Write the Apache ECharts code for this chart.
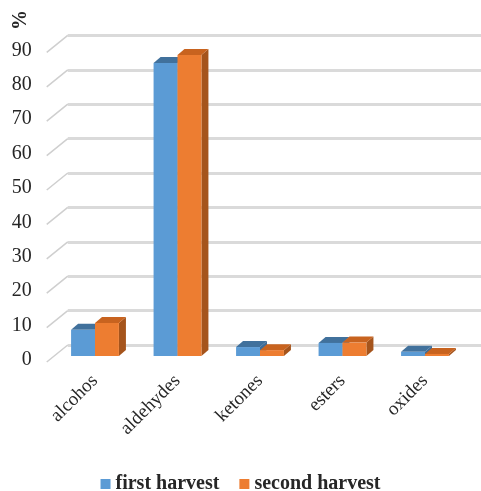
<!DOCTYPE html>
<html>
<head>
<meta charset="utf-8">
<script src="https://cdn.jsdelivr.net/npm/echarts@6/dist/echarts.min.js"></script>
<style>
  html, body { margin: 0; padding: 0; background: #fff; }
  #chart { width: 481px; height: 491px; }
</style>
</head>
<body>
<div id="chart"></div>
<script>
var categories = ['alcohos', 'aldehydes', 'ketones', 'esters', 'oxides'];
var firstHarvest = [7.6, 85.2, 2.6, 3.8, 1.2];
var secondHarvest = [9.6, 87.5, 1.7, 3.9, 0.6];
var yTicks = [0, 10, 20, 30, 40, 50, 60, 70, 80, 90];

var serif = '"Liberation Serif", "Times New Roman", serif';
var depthX = 7, depthY = 6;     // bar top/side depth
var backX = 14, backY = 11;     // bar plane -> back wall
var frontX = 7, frontY = 6;     // front edge -> bar plane

function bar3d(slot, front, top, side) {
    return function (params, api) {
        var cat = api.value(0);
        var val = api.value(1);
        var base = api.coord([cat, 0]);
        var tp = api.coord([cat, val]);
        var band = api.size([1, 0])[0];
        var w = band * 0.29;
        var x0 = base[0] - w + slot * w;
        var yT = tp[1], yB = base[1];
        return {
            type: 'group',
            children: [
                { type: 'polygon', shape: { points: [[x0 + w, yT], [x0 + w + depthX, yT - depthY], [x0 + w + depthX, yB - depthY], [x0 + w, yB]] }, style: { fill: side } },
                { type: 'polygon', shape: { points: [[x0, yT], [x0 + w, yT], [x0 + w + depthX, yT - depthY], [x0 + depthX, yT - depthY]] }, style: { fill: top } },
                { type: 'rect', shape: { x: x0, y: yT, width: w, height: yB - yT }, style: { fill: front } }
            ]
        };
    };
}

var diagData = [];
for (var i = 0; i < yTicks.length; i++) {
    diagData.push([0, yTicks[i]]);
}

var myChart = echarts.init(document.getElementById('chart'));
var option = {
    animation: false,
    graphic: [{
        type: 'text',
        x: 21, y: 20,
        rotation: Math.PI / 2,
        style: { text: '%', font: 'bold 20px ' + serif, fill: '#262626', textAlign: 'center', textVerticalAlign: 'middle' }
    }],
    legend: {
        data: ['first harvest', 'second harvest'],
        top: 469,
        itemWidth: 10,
        itemHeight: 10,
        itemGap: 20,
        icon: 'rect',
        textStyle: { fontFamily: serif, fontWeight: 'bold', fontSize: 20, color: '#262626' }
    },
    grid: [
        { left: 53.75, right: 14.75, top: 46.4, bottom: 135 },
        { left: 53.75 + backX, right: 0, top: 46.4 - backY, bottom: 135 + backY },
        // label plane, a little in front of the bars
        { left: 53.75, right: 14.75, top: 50.4, bottom: 131 }
    ],
    xAxis: [
        {
            type: 'category', gridIndex: 0, data: categories,
            axisLine: { show: false }, axisTick: { show: false },
            axisLabel: { rotate: 45, margin: 22, fontFamily: serif, fontSize: 19, color: '#262626' }
        },
        { type: 'category', gridIndex: 1, data: categories, show: false },
        { type: 'category', gridIndex: 2, data: categories, show: false }
    ],
    yAxis: [
        {
            type: 'value', gridIndex: 0, min: 0, max: 90, interval: 10, show: false
        },
        {
            type: 'value', gridIndex: 1, min: 0, max: 90, interval: 10,
            axisLine: { show: false }, axisTick: { show: false }, axisLabel: { show: false },
            splitLine: { show: true, lineStyle: { color: '#dadada', width: 3 } }
        },
        {
            type: 'value', gridIndex: 2, min: 0, max: 90, interval: 10,
            axisLine: { show: false }, axisTick: { show: false }, splitLine: { show: false },
            axisLabel: { margin: 22, fontFamily: serif, fontSize: 20, color: '#262626' }
        }
    ],
    series: [
        {
            name: 'diag', type: 'custom', xAxisIndex: 0, yAxisIndex: 0, silent: true,
            data: diagData,
            renderItem: function (params, api) {
                var p = api.coord([0, api.value(1)]);
                var x = params.coordSys.x;
                return {
                    type: 'line',
                    shape: { x1: x - frontX, y1: p[1] + frontY, x2: x + backX, y2: p[1] - backY },
                    style: { stroke: '#cfcfcf', lineWidth: 1.5 }
                };
            }
        },
        {
            name: 'first harvest', type: 'custom', xAxisIndex: 0, yAxisIndex: 0,
            itemStyle: { color: '#5b9bd5' },
            data: firstHarvest.map(function (v, i) { return [i, v]; }),
            renderItem: bar3d(0, '#5b9bd5', '#41719c', '#3e6d99')
        },
        {
            name: 'second harvest', type: 'custom', xAxisIndex: 0, yAxisIndex: 0,
            itemStyle: { color: '#ed7d31' },
            data: secondHarvest.map(function (v, i) { return [i, v]; }),
            renderItem: bar3d(1, '#ed7d31', '#c8631f', '#a5541c')
        }
    ]
};
myChart.setOption(option);
</script>
</body>
</html>
